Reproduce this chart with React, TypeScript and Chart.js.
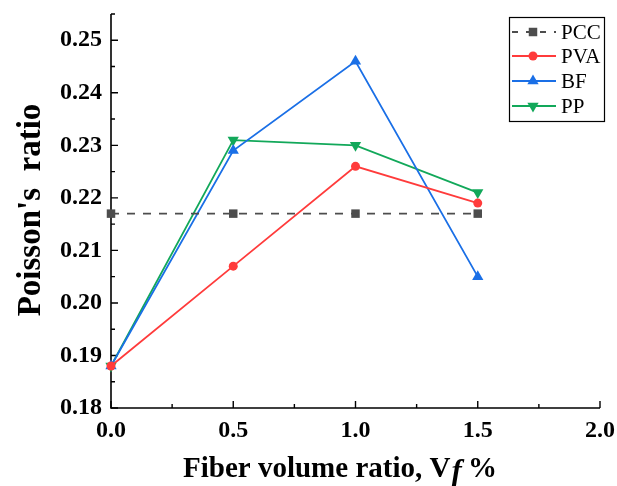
import React, { useEffect, useRef } from "react";
import { Chart, registerables } from "chart.js";

Chart.register(...registerables);

const X_VALUES = [0, 0.5, 1.0, 1.5];
const PCC = [0.217, 0.217, 0.217, 0.217];
const PVA = [0.188, 0.207, 0.226, 0.219];
const BF = [0.188, 0.229, 0.246, 0.205];
const PP = [0.188, 0.231, 0.230, 0.221];

const X_MAJOR = [0, 0.5, 1.0, 1.5, 2.0];
const X_MINOR = [0.25, 0.75, 1.25, 1.75];
const Y_MAJOR = [0.18, 0.19, 0.2, 0.21, 0.22, 0.23, 0.24, 0.25];
const Y_MINOR = [0.185, 0.195, 0.205, 0.215, 0.225, 0.235, 0.245, 0.255];

const SERIES = [
  { label: "PCC", data: PCC, color: "#4d4d4d", style: "rect", rot: 0, dash: [8, 8] },
  { label: "PVA", data: PVA, color: "#ff3b3b", style: "circle", rot: 0, dash: [] },
  { label: "BF", data: BF, color: "#1a6fe6", style: "triangle", rot: 0, dash: [] },
  { label: "PP", data: PP, color: "#12a85a", style: "triangle", rot: 180, dash: [] },
];

const FONT = "'Liberation Serif', 'Times New Roman', serif";

function drawMarker(ctx: CanvasRenderingContext2D, style: string, rot: number, x: number, y: number, r: number, color: string) {
  ctx.save();
  ctx.fillStyle = color;
  ctx.translate(x, y);
  ctx.rotate((rot * Math.PI) / 180);
  ctx.beginPath();
  if (style === "circle") {
    ctx.arc(0, 0, r, 0, Math.PI * 2);
  } else if (style === "rect") {
    const s = r * Math.SQRT1_2;
    ctx.rect(-s, -s, 2 * s, 2 * s);
  } else {
    const a = (Math.PI * 2) / 3;
    ctx.moveTo(0, -r);
    ctx.lineTo(r * Math.sin(a), -r * Math.cos(a));
    ctx.lineTo(-r * Math.sin(a), -r * Math.cos(a));
    ctx.closePath();
  }
  ctx.fill();
  ctx.restore();
}

const customPlugin = {
  id: "customAxes",
  beforeDatasetsDraw(chart: any) {
    const { ctx, chartArea } = chart;
    const x = chart.scales.x;
    const y = chart.scales.y;
    ctx.save();
    ctx.strokeStyle = "#000";
    ctx.lineWidth = 1.6;
    ctx.beginPath();
    ctx.moveTo(chartArea.left, chartArea.top);
    ctx.lineTo(chartArea.left, chartArea.bottom);
    ctx.lineTo(chartArea.right, chartArea.bottom);
    ctx.stroke();
    ctx.lineWidth = 1.4;
    ctx.beginPath();
    X_MAJOR.forEach((v) => {
      const px = x.getPixelForValue(v);
      ctx.moveTo(px, chartArea.bottom);
      ctx.lineTo(px, chartArea.bottom - 7);
    });
    X_MINOR.forEach((v) => {
      const px = x.getPixelForValue(v);
      ctx.moveTo(px, chartArea.bottom);
      ctx.lineTo(px, chartArea.bottom - 4);
    });
    Y_MAJOR.forEach((v) => {
      const py = y.getPixelForValue(v);
      ctx.moveTo(chartArea.left, py);
      ctx.lineTo(chartArea.left + 7, py);
    });
    Y_MINOR.forEach((v) => {
      const py = y.getPixelForValue(v);
      ctx.moveTo(chartArea.left, py);
      ctx.lineTo(chartArea.left + 4, py);
    });
    ctx.stroke();
    ctx.restore();
  },
  afterDraw(chart: any) {
    const { ctx } = chart;
    ctx.save();
    ctx.fillStyle = "#000";
    // X title with italic f
    const base = `bold 29px ${FONT}`;
    const ital = `bold italic 31px ${FONT}`;
    const p1 = "Fiber volume ratio, V";
    const p2 = "f";
    const p3 = " %";
    ctx.font = base;
    const w1 = ctx.measureText(p1).width;
    const w3 = ctx.measureText(p3).width;
    ctx.font = ital;
    const w2 = ctx.measureText(p2).width;
    const total = w1 + w2 + w3;
    const cx = 340;
    let sx = cx - total / 2;
    const by = 477;
    ctx.textBaseline = "alphabetic";
    ctx.textAlign = "left";
    ctx.font = base;
    ctx.fillText(p1, sx, by);
    sx += w1 + 1;
    ctx.font = ital;
    ctx.fillText(p2, sx, by + 4);
    sx += w2 - 1;
    ctx.font = base;
    ctx.fillText(p3, sx, by);

    // Y title
    ctx.save();
    ctx.translate(31, 210);
    ctx.rotate(-Math.PI / 2);
    ctx.textAlign = "center";
    ctx.textBaseline = "middle";
    ctx.font = `bold 33px ${FONT}`;
    ctx.fillText("Poisson's  ratio", 0, 0);
    ctx.restore();

    // Legend
    const lx = 509, ly = 17, lw = 95, lh = 104;
    ctx.strokeStyle = "#000";
    ctx.lineWidth = 1.2;
    ctx.strokeRect(lx + 0.5, ly + 0.5, lw, lh);
    const rows = [32, 56, 81, 106];
    chart.data.datasets.forEach((ds: any, i: number) => {
      const rowY = rows[i];
      ctx.save();
      ctx.strokeStyle = ds.borderColor;
      ctx.lineWidth = 1.8;
      ctx.setLineDash(ds.borderDash && ds.borderDash.length ? [6, 8] : []);
      ctx.beginPath();
      ctx.moveTo(lx + 3, rowY);
      ctx.lineTo(lx + 47, rowY);
      ctx.stroke();
      ctx.restore();
      drawMarker(ctx, ds.pointStyle, ds.pointRotation, lx + 24, rowY, ds.pointRadius, ds.borderColor);
      ctx.fillStyle = "#000";
      ctx.font = `21px ${FONT}`;
      ctx.textAlign = "left";
      ctx.textBaseline = "middle";
      ctx.fillText(ds.label, lx + 52, rowY + 1);
    });
    ctx.restore();
  },
};

export default function App() {
  const ref = useRef<HTMLCanvasElement>(null);
  useEffect(() => {
    if (!ref.current) return;
    const chart = new Chart(ref.current, {
      type: "line",
      data: {
        datasets: SERIES.map((s) => ({
          label: s.label,
          data: X_VALUES.map((xv, i) => ({ x: xv, y: s.data[i] })),
          borderColor: s.color,
          backgroundColor: s.color,
          pointBackgroundColor: s.color,
          pointBorderColor: s.color,
          pointBorderWidth: 0,
          pointStyle: s.style,
          pointRotation: s.rot,
          pointRadius: s.style === "triangle" ? 6.5 : s.style === "rect" ? 6 : 4.5,
          borderWidth: 1.8,
          borderDash: s.dash,
          tension: 0,
          clip: false,
        })),
      },
      options: {
        animation: false,
        responsive: false,
        devicePixelRatio: 1,
        layout: { padding: { top: 14, right: 17, left: 0, bottom: 0 } },
        plugins: { legend: { display: false }, tooltip: { enabled: false } },
        scales: {
          x: {
            type: "linear",
            min: 0,
            max: 2,
            grid: { display: false, drawTicks: false },
            border: { display: false },
            afterBuildTicks: (s: any) => {
              s.ticks = X_MAJOR.map((v) => ({ value: v }));
            },
            afterFit: (s: any) => {
              s.height = 78;
              s.paddingLeft = 0;
              s.paddingRight = 0;
            },
            ticks: {
              color: "#000",
              padding: 8,
              maxRotation: 0,
              font: { family: FONT, size: 24, weight: "bold" },
              callback: (v: any) => Number(v).toFixed(1),
            },
          },
          y: {
            type: "linear",
            min: 0.18,
            max: 0.255,
            grid: { display: false, drawTicks: false },
            border: { display: false },
            afterBuildTicks: (s: any) => {
              s.ticks = Y_MAJOR.map((v) => ({ value: v }));
            },
            afterFit: (s: any) => {
              s.width = 111;
              s.paddingTop = 0;
              s.paddingBottom = 0;
            },
            ticks: {
              color: "#000",
              padding: 9,
              font: { family: FONT, size: 24, weight: "bold" },
              callback: (v: any) => Number(v).toFixed(2),
            },
          },
        },
      },
      plugins: [customPlugin],
    } as any);
    return () => chart.destroy();
  }, []);
  return (
    <div style={{ position: "fixed", left: 0, top: 0, background: "#fff" }}>
      <canvas ref={ref} width={617} height={486} />
    </div>
  );
}
